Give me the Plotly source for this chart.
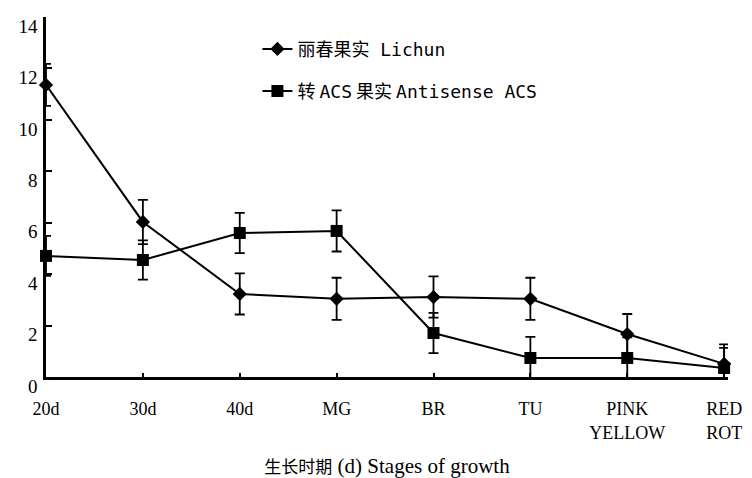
import plotly.graph_objects as go

# Growth stages on the x axis
stages = ["20d", "30d", "40d", "MG", "BR", "TU", "PINK<br>YELLOW", "RED<br>ROT"]
stage_pos = [0, 1, 2, 3, 4, 5, 6, 7]

# 丽春果实 Lichun: mean and error
lichun = [11.36, 6.03, 3.23, 3.04, 3.11, 3.04, 1.67, 0.51]
lichun_err = [0.82, 0.86, 0.80, 0.82, 0.80, 0.82, 0.78, 0.76]

# 转 ACS 果实 Antisense ACS: mean and error
acs = [4.71, 4.55, 5.60, 5.68, 1.71, 0.74, 0.74, 0.35]
acs_err = [0.78, 0.76, 0.78, 0.80, 0.78, 0.82, 0.80, 0.78]

y_ticks = [0, 2, 4, 6, 8, 10, 12, 14]

serif = "Liberation Serif"
cjk = "Noto Sans CJK SC"
mono = "DejaVu Sans Mono"


def mixed(parts):
    """Build a label from (text, font) pieces."""
    return "".join(f'<span style="font-family:{f}">{t}</span>' for t, f in parts)


lichun_name = mixed([("丽春果实", cjk), (" Lichun", mono)])
acs_name = mixed([("转 ", cjk), ("ACS", mono), (" 果实 ", cjk), ("Antisense ACS", mono)])
x_title = ('<span style="font-family:Noto Sans CJK SC;font-size:17px">生长时期</span>'
           '<span style="font-family:Liberation Serif;font-size:21px"> (d) Stages of growth</span>')

fig = go.Figure()

fig.add_trace(go.Scatter(
    x=stage_pos, y=lichun, name=lichun_name, legend="legend",
    mode="lines+markers",
    line=dict(color="black", width=2),
    marker=dict(symbol="diamond", size=11, color="black"),
    error_y=dict(type="data", array=lichun_err, color="black", thickness=1.8, width=5),
    cliponaxis=False,
))

fig.add_trace(go.Scatter(
    x=stage_pos, y=acs, name=acs_name, legend="legend2",
    mode="lines+markers",
    line=dict(color="black", width=2),
    marker=dict(symbol="square", size=12, color="black"),
    error_y=dict(type="data", array=acs_err, color="black", thickness=1.8, width=5),
    cliponaxis=False,
))

fig.update_layout(
    width=752, height=478,
    margin=dict(l=46, r=24, t=17, b=101, autoexpand=False),
    paper_bgcolor="white", plot_bgcolor="white",
    font=dict(family=serif, color="black", size=17),
    showlegend=True,
    legend=dict(x=0.31, y=0.962, xanchor="left", yanchor="top",
                bgcolor="rgba(0,0,0,0)", font=dict(family=cjk, size=18)),
    legend2=dict(x=0.31, y=0.845, xanchor="left", yanchor="top",
                 bgcolor="rgba(0,0,0,0)", font=dict(family=cjk, size=18)),
    xaxis=dict(
        range=[0, 7.04], tickvals=stage_pos, ticktext=stages,
        showline=True, linecolor="black", linewidth=2.5,
        ticks="inside", ticklen=4, tickcolor="black", tickwidth=1.5,
        showgrid=False, zeroline=False, automargin=False,
        tickfont=dict(family=serif, size=18),
        ticklabelstandoff=14,
        title=dict(text=x_title, font=dict(family=serif, size=18), standoff=31),
    ),
    yaxis=dict(
        range=[0, 14], tickvals=y_ticks,
        showline=True, linecolor="black", linewidth=2.5,
        ticks="inside", ticklen=6, tickcolor="black", tickwidth=1.5,
        showgrid=False, zeroline=False, automargin=False,
        tickfont=dict(family=serif, size=19),
        ticklabelshift=9,
        ticklabelstandoff=2,
    ),
)

fig.write_html("out.html")
